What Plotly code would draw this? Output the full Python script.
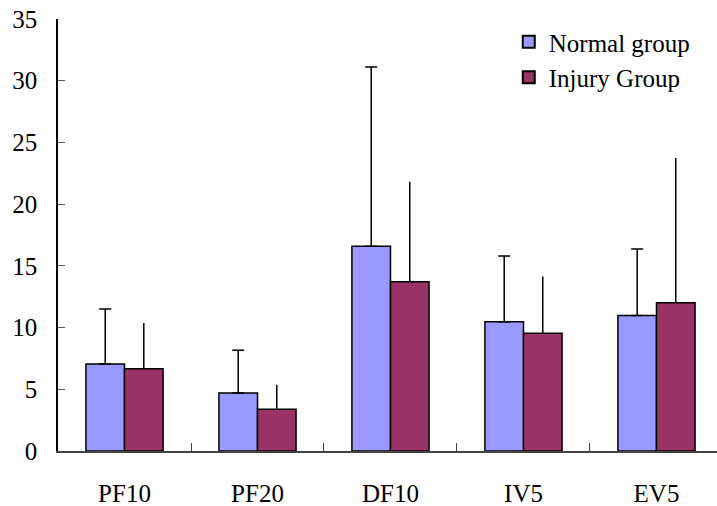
import plotly.graph_objects as go

categories = ["PF10", "PF20", "DF10", "IV5", "EV5"]
normal_vals = [7.05, 4.70, 16.59, 10.48, 10.97]
normal_err = [4.45, 3.46, 14.53, 5.32, 5.40]
injury_vals = [6.67, 3.38, 13.72, 9.54, 12.02]
injury_err = [3.70, 1.99, 8.10, 4.59, 11.72]
y_ticks = [0, 5, 10, 15, 20, 25, 30, 35]

FONT = "Liberation Serif, Times New Roman, serif"

fig = go.Figure()
fig.add_trace(go.Bar(
    name="Normal group", x=categories, y=normal_vals,
    marker=dict(color="#9999FF", line=dict(color="black", width=1.5)),
    error_y=dict(type="data", array=normal_err, arrayminus=[0]*5, symmetric=False,
                 color="black", thickness=1.5, width=6),
))
fig.add_trace(go.Bar(
    name="Injury Group", x=categories, y=injury_vals,
    marker=dict(color="#993366", line=dict(color="black", width=1.5)),
    error_y=dict(type="data", array=injury_err, arrayminus=[0]*5, symmetric=False,
                 color="black", thickness=1.5, width=0),
))

fig.update_layout(
    width=717, height=506,
    margin=dict(l=58, r=0, t=19, b=55),
    paper_bgcolor="white", plot_bgcolor="white",
    barmode="group", bargap=0.42, bargroupgap=0,
    font=dict(family=FONT, size=25, color="black"),
    legend=dict(x=0.684, y=1.0, xanchor="left", yanchor="top",
                bgcolor="rgba(0,0,0,0)", font=dict(size=25),
                tracegroupgap=0, itemsizing="constant"),
    xaxis=dict(range=[-0.5, 4.455], showline=True, linecolor="#444", linewidth=1.5,
               ticks="inside", tickson="boundaries", ticklen=8, tickcolor="#444",
               showgrid=False, zeroline=False, ticklabelstandoff=19),
    yaxis=dict(range=[0, 35], tickvals=y_ticks, showline=True, linecolor="black",
               linewidth=1.5, ticks="inside", ticklen=7, tickcolor="#555",
               showgrid=False, zeroline=False, ticklabelstandoff=14),
)

fig.write_html("out.html")
